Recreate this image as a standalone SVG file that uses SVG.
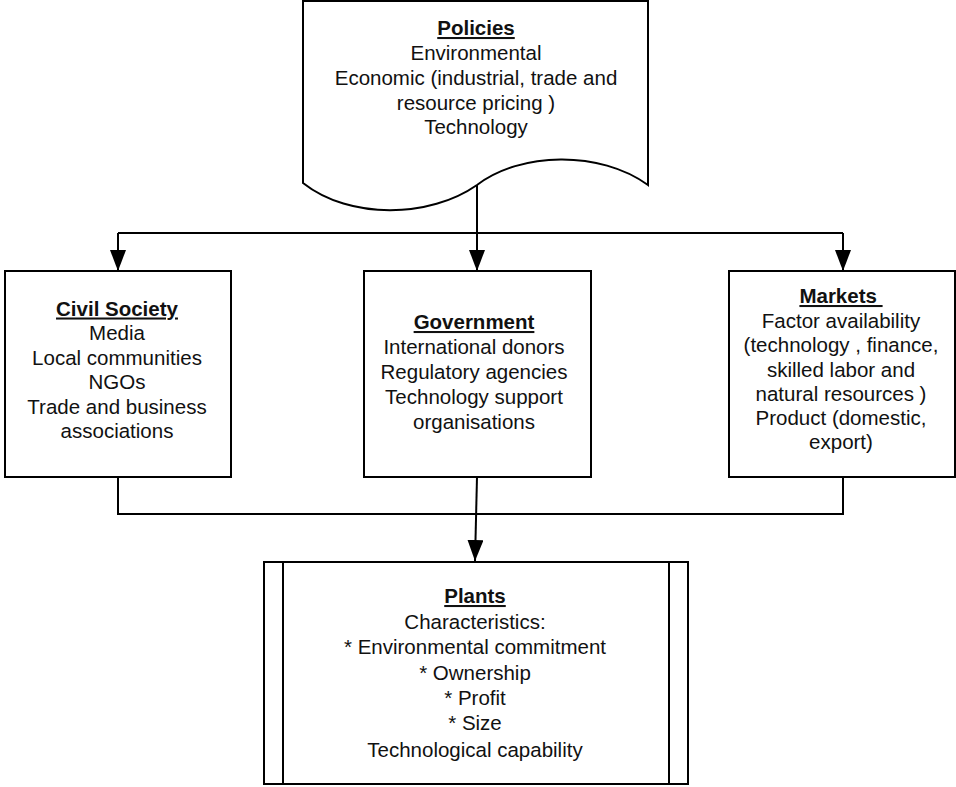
<svg xmlns="http://www.w3.org/2000/svg" width="956" height="787" viewBox="0 0 956 787">
<defs>
<style>
.box{fill:#fff;stroke:#000;stroke-width:2}
.ln{fill:none;stroke:#000;stroke-width:2}
text{font-family:"Liberation Sans",Arial,sans-serif;font-size:20.5px;fill:#111;text-anchor:middle}
.h{font-weight:bold;text-decoration:underline}
</style>
<marker id="arr" viewBox="0 0 21 16" refX="21" refY="8" markerWidth="21" markerHeight="16" markerUnits="userSpaceOnUse" orient="auto">
<path d="M0,0 L21,8 L0,16 Z" fill="#000"/>
</marker>
</defs>
<rect width="956" height="787" fill="#fff"/>
<g id="connectors">
<path class="ln" d="M477,185 V233"/>
<path class="ln" d="M118,233 H843"/>
<path class="ln" d="M118,233 V271" marker-end="url(#arr)"/>
<path class="ln" d="M477,233 V271" marker-end="url(#arr)"/>
<path class="ln" d="M843,233 V271" marker-end="url(#arr)"/>
<path class="ln" d="M118,477 V514 H843 V477"/>
<path class="ln" d="M477,477 L475,561" marker-end="url(#arr)"/>
</g>
<g id="policies">
<path class="box" d="M303,1 H648 V185 C600,150 520,152 477,185 C430,218 350,220 303,183 Z"/>
<text x="476" y="35" class="h">Policies</text>
<text x="476" y="60">Environmental</text>
<text x="476" y="85">Economic (industrial, trade and</text>
<text x="476" y="110">resource pricing )</text>
<text x="476" y="134">Technology</text>
</g>
<g id="civil-society">
<rect class="box" x="5" y="271" width="226" height="206"/>
<text x="117" y="315.5" class="h">Civil Society</text>
<text x="117" y="340">Media</text>
<text x="117" y="364.5">Local communities</text>
<text x="117" y="389">NGOs</text>
<text x="117" y="413.5">Trade and business</text>
<text x="117" y="438">associations</text>
</g>
<g id="government">
<rect class="box" x="364" y="271" width="227" height="206"/>
<text x="474" y="329" class="h">Government</text>
<text x="474" y="354">International donors</text>
<text x="474" y="379">Regulatory agencies</text>
<text x="474" y="404">Technology support</text>
<text x="474" y="429">organisations</text>
</g>
<g id="markets">
<rect class="box" x="729" y="271" width="226" height="206"/>
<text x="841" y="303" class="h" xml:space="preserve">Markets </text>
<text x="841" y="327.5">Factor availability</text>
<text x="841" y="352">(technology , finance,</text>
<text x="841" y="376.5">skilled labor and</text>
<text x="841" y="401">natural resources )</text>
<text x="841" y="425">Product (domestic,</text>
<text x="841" y="449">export)</text>
</g>
<g id="plants">
<rect class="box" x="264" y="562" width="424" height="222"/>
<path class="ln" d="M283,562 V784 M669,562 V784"/>
<text x="475" y="603" class="h">Plants</text>
<text x="475" y="629">Characteristics:</text>
<text x="475" y="654">* Environmental commitment</text>
<text x="475" y="680">* Ownership</text>
<text x="475" y="705">* Profit</text>
<text x="475" y="730">* Size</text>
<text x="475" y="757">Technological capability</text>
</g>
</svg>
